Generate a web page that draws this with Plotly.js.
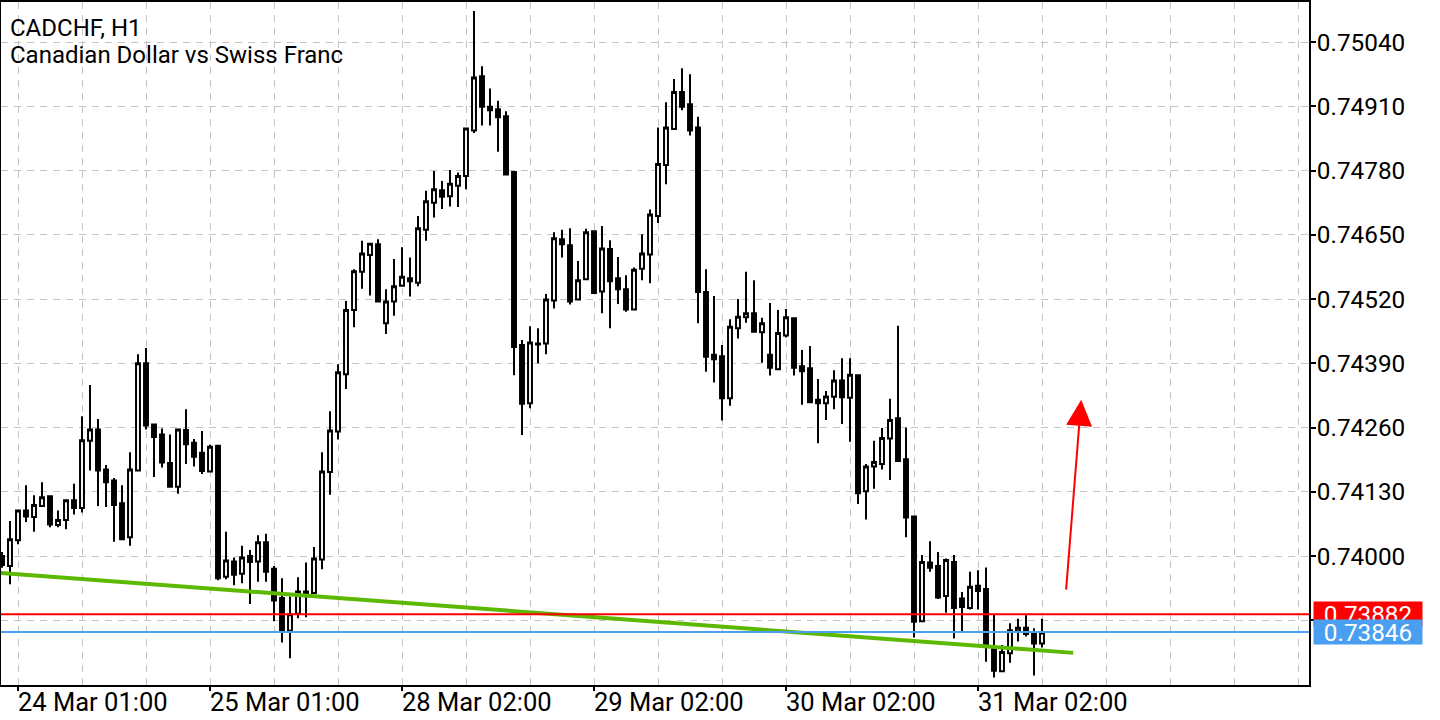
<!DOCTYPE html>
<html>
<head>
<meta charset="utf-8">
<script src="https://cdn.plot.ly/plotly-3.0.1.min.js"></script>
<style>
  html, body { margin: 0; padding: 0; background: #fff; }
  #chart { width: 1440px; height: 720px; }
</style>
</head>
<body>
<div id="chart"></div>
<script>
// CADCHF H1 -- one value per hourly bar, oldest first (23 Mar 23:00 .. 31 Mar 10:00)
const barOpen = [
  0.74000, 0.73980, 0.74032, 0.74092, 0.74079, 0.74101, 0.74121, 0.74063, 0.74073, 0.74113,
  0.74097, 0.74233, 0.74256, 0.74175, 0.74153, 0.74107, 0.74038, 0.74173, 0.74390, 0.74266,
  0.74246, 0.74188, 0.74140, 0.74255, 0.74229, 0.74209, 0.74171, 0.74223, 0.73958, 0.73989,
  0.73964, 0.74000, 0.73989, 0.74028, 0.73974, 0.73915, 0.73849, 0.73883, 0.73928, 0.73925,
  0.73993, 0.74170, 0.74252, 0.74368, 0.74498, 0.74575, 0.74609, 0.74631, 0.74471, 0.74515,
  0.74547, 0.74562, 0.74553, 0.74660, 0.74715, 0.74740, 0.74728, 0.74749, 0.74769, 0.74861,
  0.74971, 0.74909, 0.74904, 0.74890, 0.74777, 0.74427, 0.74309, 0.74430, 0.74430, 0.74517,
  0.74641, 0.74629, 0.74519, 0.74560, 0.74657, 0.74535, 0.74621, 0.74562, 0.74540, 0.74499,
  0.74581, 0.74610, 0.74688, 0.74791, 0.74864, 0.74939, 0.74914, 0.74867, 0.74534, 0.74407,
  0.74404, 0.74319, 0.74461, 0.74483, 0.74491, 0.74453, 0.74407, 0.74378, 0.74446, 0.74481,
  0.74384, 0.74380, 0.74316, 0.74309, 0.74322, 0.74355, 0.74320, 0.74366, 0.74131, 0.74181,
  0.74186, 0.74238, 0.74279, 0.74196, 0.74080, 0.73868, 0.73987, 0.73980, 0.73919, 0.73988,
  0.73914, 0.73895, 0.73940, 0.73933, 0.73813, 0.73767, 0.73803, 0.73848, 0.73855, 0.73845,
  0.73823
];
const barHigh = [
  0.74008, 0.74071, 0.74093, 0.74143, 0.74123, 0.74149, 0.74123, 0.74092, 0.74115, 0.74146,
  0.74283, 0.74346, 0.74277, 0.74184, 0.74158, 0.74143, 0.74210, 0.74408, 0.74421, 0.74268,
  0.74258, 0.74246, 0.74256, 0.74297, 0.74237, 0.74253, 0.74225, 0.74223, 0.74049, 0.73997,
  0.74021, 0.74012, 0.74042, 0.74045, 0.73980, 0.73955, 0.73918, 0.73957, 0.73987, 0.74018,
  0.74210, 0.74293, 0.74388, 0.74516, 0.74580, 0.74638, 0.74632, 0.74641, 0.74540, 0.74601,
  0.74625, 0.74604, 0.74688, 0.74739, 0.74779, 0.74759, 0.74781, 0.74776, 0.74865, 0.75103,
  0.74991, 0.74946, 0.74921, 0.74900, 0.74777, 0.74437, 0.74465, 0.74461, 0.74530, 0.74655,
  0.74660, 0.74663, 0.74597, 0.74662, 0.74657, 0.74668, 0.74639, 0.74605, 0.74568, 0.74584,
  0.74651, 0.74701, 0.74867, 0.74918, 0.74965, 0.74987, 0.74975, 0.74889, 0.74580, 0.74526,
  0.74427, 0.74479, 0.74520, 0.74575, 0.74558, 0.74482, 0.74512, 0.74498, 0.74500, 0.74481,
  0.74417, 0.74425, 0.74358, 0.74334, 0.74376, 0.74400, 0.74400, 0.74366, 0.74186, 0.74233,
  0.74259, 0.74318, 0.74466, 0.74260, 0.74080, 0.74002, 0.74030, 0.74008, 0.73995, 0.74002,
  0.73927, 0.73968, 0.73971, 0.73977, 0.73882, 0.73820, 0.73864, 0.73873, 0.73880, 0.73854,
  0.73873
];
const barLow = [
  0.73976, 0.73943, 0.74024, 0.74069, 0.74049, 0.74101, 0.74058, 0.74058, 0.74054, 0.74084,
  0.74088, 0.74173, 0.74101, 0.74099, 0.74029, 0.74033, 0.74021, 0.74173, 0.74256, 0.74160,
  0.74179, 0.74140, 0.74126, 0.74186, 0.74181, 0.74166, 0.74171, 0.73951, 0.73953, 0.73941,
  0.73945, 0.73903, 0.73948, 0.73948, 0.73868, 0.73825, 0.73793, 0.73874, 0.73876, 0.73925,
  0.73973, 0.74124, 0.74236, 0.74338, 0.74463, 0.74541, 0.74527, 0.74515, 0.74449, 0.74486,
  0.74547, 0.74525, 0.74546, 0.74638, 0.74685, 0.74702, 0.74707, 0.74706, 0.74742, 0.74856,
  0.74871, 0.74871, 0.74818, 0.74772, 0.74366, 0.74245, 0.74299, 0.74390, 0.74408, 0.74501,
  0.74604, 0.74509, 0.74519, 0.74560, 0.74532, 0.74491, 0.74461, 0.74510, 0.74494, 0.74499,
  0.74558, 0.74552, 0.74674, 0.74752, 0.74864, 0.74902, 0.74851, 0.74471, 0.74373, 0.74351,
  0.74274, 0.74304, 0.74440, 0.74472, 0.74454, 0.74391, 0.74365, 0.74378, 0.74442, 0.74365,
  0.74306, 0.74311, 0.74228, 0.74275, 0.74297, 0.74267, 0.74231, 0.74105, 0.74074, 0.74136,
  0.74175, 0.74154, 0.74191, 0.74038, 0.73835, 0.73868, 0.73968, 0.73913, 0.73885, 0.73833,
  0.73846, 0.73892, 0.73892, 0.73786, 0.73754, 0.73767, 0.73784, 0.73827, 0.73837, 0.73758,
  0.73815
];
const barClose = [
  0.73982, 0.74034, 0.74092, 0.74080, 0.74103, 0.74119, 0.74064, 0.74073, 0.74113, 0.74097,
  0.74234, 0.74256, 0.74173, 0.74149, 0.74103, 0.74034, 0.74175, 0.74390, 0.74264, 0.74241,
  0.74189, 0.74140, 0.74256, 0.74226, 0.74201, 0.74172, 0.74221, 0.73955, 0.73991, 0.73962,
  0.73997, 0.73988, 0.74028, 0.73968, 0.73910, 0.73848, 0.73882, 0.73928, 0.73925, 0.73995,
  0.74171, 0.74254, 0.74372, 0.74498, 0.74576, 0.74612, 0.74632, 0.74515, 0.74515, 0.74546,
  0.74565, 0.74556, 0.74663, 0.74718, 0.74742, 0.74727, 0.74753, 0.74769, 0.74865, 0.74968,
  0.74909, 0.74902, 0.74888, 0.74772, 0.74423, 0.74308, 0.74432, 0.74428, 0.74519, 0.74643,
  0.74631, 0.74515, 0.74558, 0.74655, 0.74532, 0.74622, 0.74556, 0.74540, 0.74499, 0.74579,
  0.74612, 0.74691, 0.74793, 0.74867, 0.74939, 0.74909, 0.74861, 0.74534, 0.74403, 0.74398,
  0.74319, 0.74464, 0.74484, 0.74491, 0.74454, 0.74471, 0.74381, 0.74451, 0.74483, 0.74381,
  0.74374, 0.74311, 0.74309, 0.74323, 0.74355, 0.74321, 0.74367, 0.74127, 0.74181, 0.74190,
  0.74239, 0.74275, 0.74192, 0.74078, 0.73867, 0.73988, 0.73976, 0.73916, 0.73992, 0.73895,
  0.73897, 0.73938, 0.73929, 0.73816, 0.73768, 0.73806, 0.73850, 0.73855, 0.73842, 0.73823,
  0.73845
];

// time axis: labelled bars (bar number from the start of the series)
const labelBars = [2, 26, 50, 74, 98, 122];
const labelText = ['24 Mar 01:00', '25 Mar 01:00', '28 Mar 02:00', '29 Mar 02:00', '30 Mar 02:00', '31 Mar 02:00'];

// price scale
const priceTicks = [0.73870, 0.74000, 0.74130, 0.74260, 0.74390, 0.74520, 0.74650, 0.74780, 0.74910, 0.75040];
const priceTickText = ['', '0.74000', '0.74130', '0.74260', '0.74390', '0.74520', '0.74650', '0.74780', '0.74910', '0.75040'];

// chart objects
const askPrice = 0.73882;
const bidPrice = 0.73846;
const trendBars = [-0.25, 133.9];
const trendPrices = [0.73966, 0.73804];
const arrowFrom = { bar: 133.0, price: 0.73929 };
const arrowTo = { bar: 134.9, price: 0.74316 };

const bars = barOpen.map((_, i) => i);
const FONT = 'Roboto, "Noto Sans", Arial, sans-serif';
const GRID = '#c4c4c4';

const velas = {
  type: 'candlestick',
  x: bars,
  open: barOpen,
  high: barHigh,
  low: barLow,
  close: barClose,
  increasing: { line: { color: '#000000', width: 2 }, fillcolor: '#ffffff' },
  decreasing: { line: { color: '#000000', width: 2 }, fillcolor: '#000000' },
  whiskerwidth: 0,
  hoverinfo: 'skip',
  showlegend: false,
};

const tendencia = {
  type: 'scatter',
  mode: 'lines',
  x: trendBars,
  y: trendPrices,
  line: { color: '#5cb800', width: 4 },
  hoverinfo: 'skip',
  showlegend: false,
};

const layout = {
  width: 1440,
  height: 720,
  margin: { l: 1, r: 131, t: 2, b: 35 },
  paper_bgcolor: '#ffffff',
  plot_bgcolor: '#ffffff',
  font: { family: FONT, size: 24, color: '#000000' },
  boxgap: 0.3,
  boxgroupgap: 0.3,
  xaxis: {
    type: 'linear',
    range: [-0.125, 163.375],
    rangeslider: { visible: false },
    showline: true, mirror: true, linecolor: '#000000', linewidth: 2,
    zeroline: false,
    tickmode: 'array', tickvals: labelBars, ticktext: labelText,
    ticks: 'outside', ticklen: 4, tickwidth: 2, tickcolor: '#000000',
    ticklabelposition: 'outside right',
    ticklabelstandoff: -7,
    ticklabelshift: -2,
    tickfont: { family: FONT, size: 25.5, color: '#000000' },
    showgrid: true, gridcolor: GRID, gridwidth: 1, griddash: '7px,6px',
    minor: { tickmode: 'linear', tick0: 2, dtick: 8, showgrid: true, gridcolor: GRID, gridwidth: 1, griddash: '7px,6px', ticks: '' },
  },
  yaxis: {
    side: 'right',
    range: [0.73739, 0.75121],
    showline: true, mirror: true, linecolor: '#000000', linewidth: 2,
    zeroline: false,
    tickmode: 'array', tickvals: priceTicks, ticktext: priceTickText,
    ticks: 'outside', ticklen: 5, tickwidth: 2, tickcolor: '#000000',
    ticklabelstandoff: -4,
    tickfont: { family: FONT, size: 24.3, color: '#000000' },
    showgrid: true, gridcolor: GRID, gridwidth: 1, griddash: '7px,6px',
  },
  shapes: [
    { type: 'line', xref: 'paper', x0: 0, x1: 1, yref: 'y', y0: askPrice, y1: askPrice, line: { color: '#ff0000', width: 2 } },
    { type: 'line', xref: 'paper', x0: 0, x1: 1, yref: 'y', y0: bidPrice, y1: bidPrice, line: { color: '#4a9ff0', width: 2 } },
  ],
  annotations: [
    { xref: 'paper', yref: 'paper', x: 0, y: 1, xanchor: 'left', yanchor: 'middle', xshift: 7, yshift: -26,
      text: 'CADCHF, H1', showarrow: false,
      font: { family: FONT, size: 24, color: '#000000' } },
    { xref: 'paper', yref: 'paper', x: 0, y: 1, xanchor: 'left', yanchor: 'middle', xshift: 7, yshift: -53,
      text: 'Canadian Dollar vs Swiss Franc', showarrow: false,
      font: { family: FONT, size: 24, color: '#000000' } },
    { xref: 'paper', yref: 'y', x: 1, y: askPrice, xanchor: 'left', yanchor: 'middle', xshift: 4,
      text: askPrice.toFixed(5), showarrow: false, bgcolor: '#ff0000', borderpad: 0, width: 108, height: 24,
      font: { family: FONT, size: 24.3, color: '#ffffff' } },
    { xref: 'paper', yref: 'y', x: 1, y: bidPrice, xanchor: 'left', yanchor: 'middle', xshift: 4,
      text: bidPrice.toFixed(5), showarrow: false, bgcolor: '#4a9ff0', borderpad: 0, width: 108, height: 24,
      font: { family: FONT, size: 24.3, color: '#ffffff' } },
    { xref: 'x', yref: 'y', x: arrowTo.bar, y: arrowTo.price,
      axref: 'x', ayref: 'y', ax: arrowFrom.bar, ay: arrowFrom.price,
      text: '', showarrow: true, arrowhead: 2, arrowsize: 2.6, arrowwidth: 2, arrowcolor: '#ff0000' },
  ],
};

Plotly.newPlot('chart', [velas, tendencia], layout, { displayModeBar: false, staticPlot: true });
</script>
</body>
</html>
